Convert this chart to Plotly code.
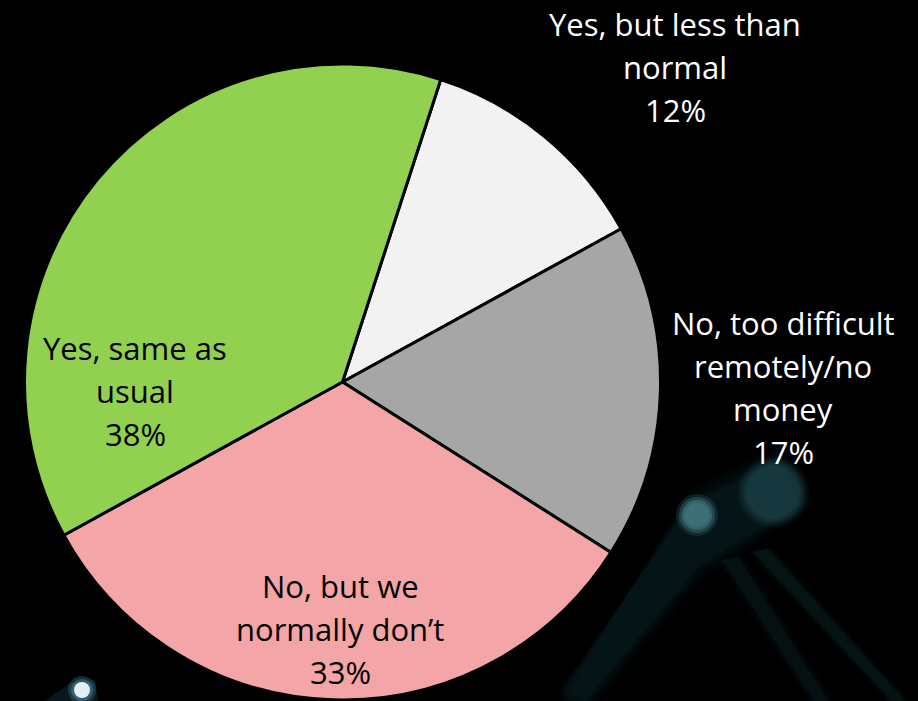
import plotly.graph_objects as go

# Survey answers, clockwise from the first slice
labels = [
    "Yes, but less than\nnormal",
    "No, too difficult\nremotely/no\nmoney",
    "No, but we\nnormally don’t",
    "Yes, same as\nusual",
]
values = [12, 17, 33, 38]
colors = ["#F2F2F2", "#A6A6A6", "#F4A5A7", "#92D050"]

# label block anchors in pixels (centre x, first-line y) and text colour
label_pos = [(675, 24), (783, 323), (340, 586), (135, 348)]
label_color = ["white", "white", "black", "black"]

W, H = 918, 701
LINE = 43

fig = go.Figure()
fig.add_trace(go.Pie(
    labels=[l.replace("\n", " ") for l in labels],
    values=values,
    sort=False,
    direction="clockwise",
    rotation=18,
    marker=dict(colors=colors, line=dict(color="black", width=3)),
    textinfo="none",
    hoverinfo="label+percent",
    showlegend=False,
    domain=dict(x=[22 / W, 663 / W], y=[1 / H, 637 / H]),
))

annotations = []
for lab, val, (cx, cy), col in zip(labels, values, label_pos, label_color):
    lines = lab.split("\n") + [f"{val}%"]
    for i, line in enumerate(lines):
        annotations.append(dict(
            x=cx / W, y=1 - (cy + i * LINE) / H, xref="paper", yref="paper",
            text=line, showarrow=False, xanchor="center", yanchor="middle",
            font=dict(family="Open Sans", size=31, color=col),
        ))


def px(x, y):
    return x / W, 1 - y / H


def circle(x, y, r, color):
    x0, y0 = px(x - r, y + r)
    x1, y1 = px(x + r, y - r)
    return dict(type="circle", xref="paper", yref="paper", x0=x0, y0=y0,
                x1=x1, y1=y1, fillcolor=color, line=dict(width=0), layer="below")


def path(points, color):
    d = "M " + " L ".join(f"{px(x, y)[0]},{px(x, y)[1]}" for x, y in points) + " Z"
    return dict(type="path", xref="paper", yref="paper", path=d,
                fillcolor=color, line=dict(width=0), layer="below")


# soft teal light streaks in the background, built from stacked translucent layers
shapes = []
for grow, a in [(16, 0.05), (10, 0.07), (5, 0.09), (0, 0.11)]:
    shapes.append(path([(560, 690 + grow), (690, 505 - grow), (780, 460 - grow),
                        (800 + grow, 505), (700, 565 + grow), (585, 701 + grow)],
                       f"rgba(25,75,85,{a})"))
for grow, a in [(5, 0.05), (2, 0.07), (0, 0.09)]:
    shapes.append(path([(722 - grow, 560), (738 + grow, 556), (828 + grow, 701), (814 - grow, 701)],
                       f"rgba(30,85,95,{a})"))
    shapes.append(path([(753 - grow, 552), (767 + grow, 548), (905 + grow, 701), (892 - grow, 701)],
                       f"rgba(35,95,105,{a})"))
for r, a in [(36, 0.15), (33, 0.25), (30, 0.35), (27, 0.35)]:
    shapes.append(circle(773, 492, r, f"rgba(28,68,76,{a})"))
for r, a in [(21, 0.2), (18, 0.35), (15, 0.5), (12, 0.4)]:
    shapes.append(circle(697, 515, r, f"rgba(70,130,140,{a})"))
shapes += [
    path([(45, 701), (70, 683), (95, 680), (98, 701)], "rgba(25,70,85,0.35)"),
    circle(82, 690, 14, "rgba(60,120,140,0.35)"),
    circle(82, 690, 11, "rgba(80,140,160,0.45)"),
    circle(82, 690, 8, "rgba(225,240,245,1)"),
]

fig.update_layout(
    width=W, height=H,
    margin=dict(l=0, r=0, t=0, b=0),
    paper_bgcolor="black",
    plot_bgcolor="black",
    annotations=annotations,
    shapes=shapes,
    showlegend=False,
)

fig.write_html("out.html")
